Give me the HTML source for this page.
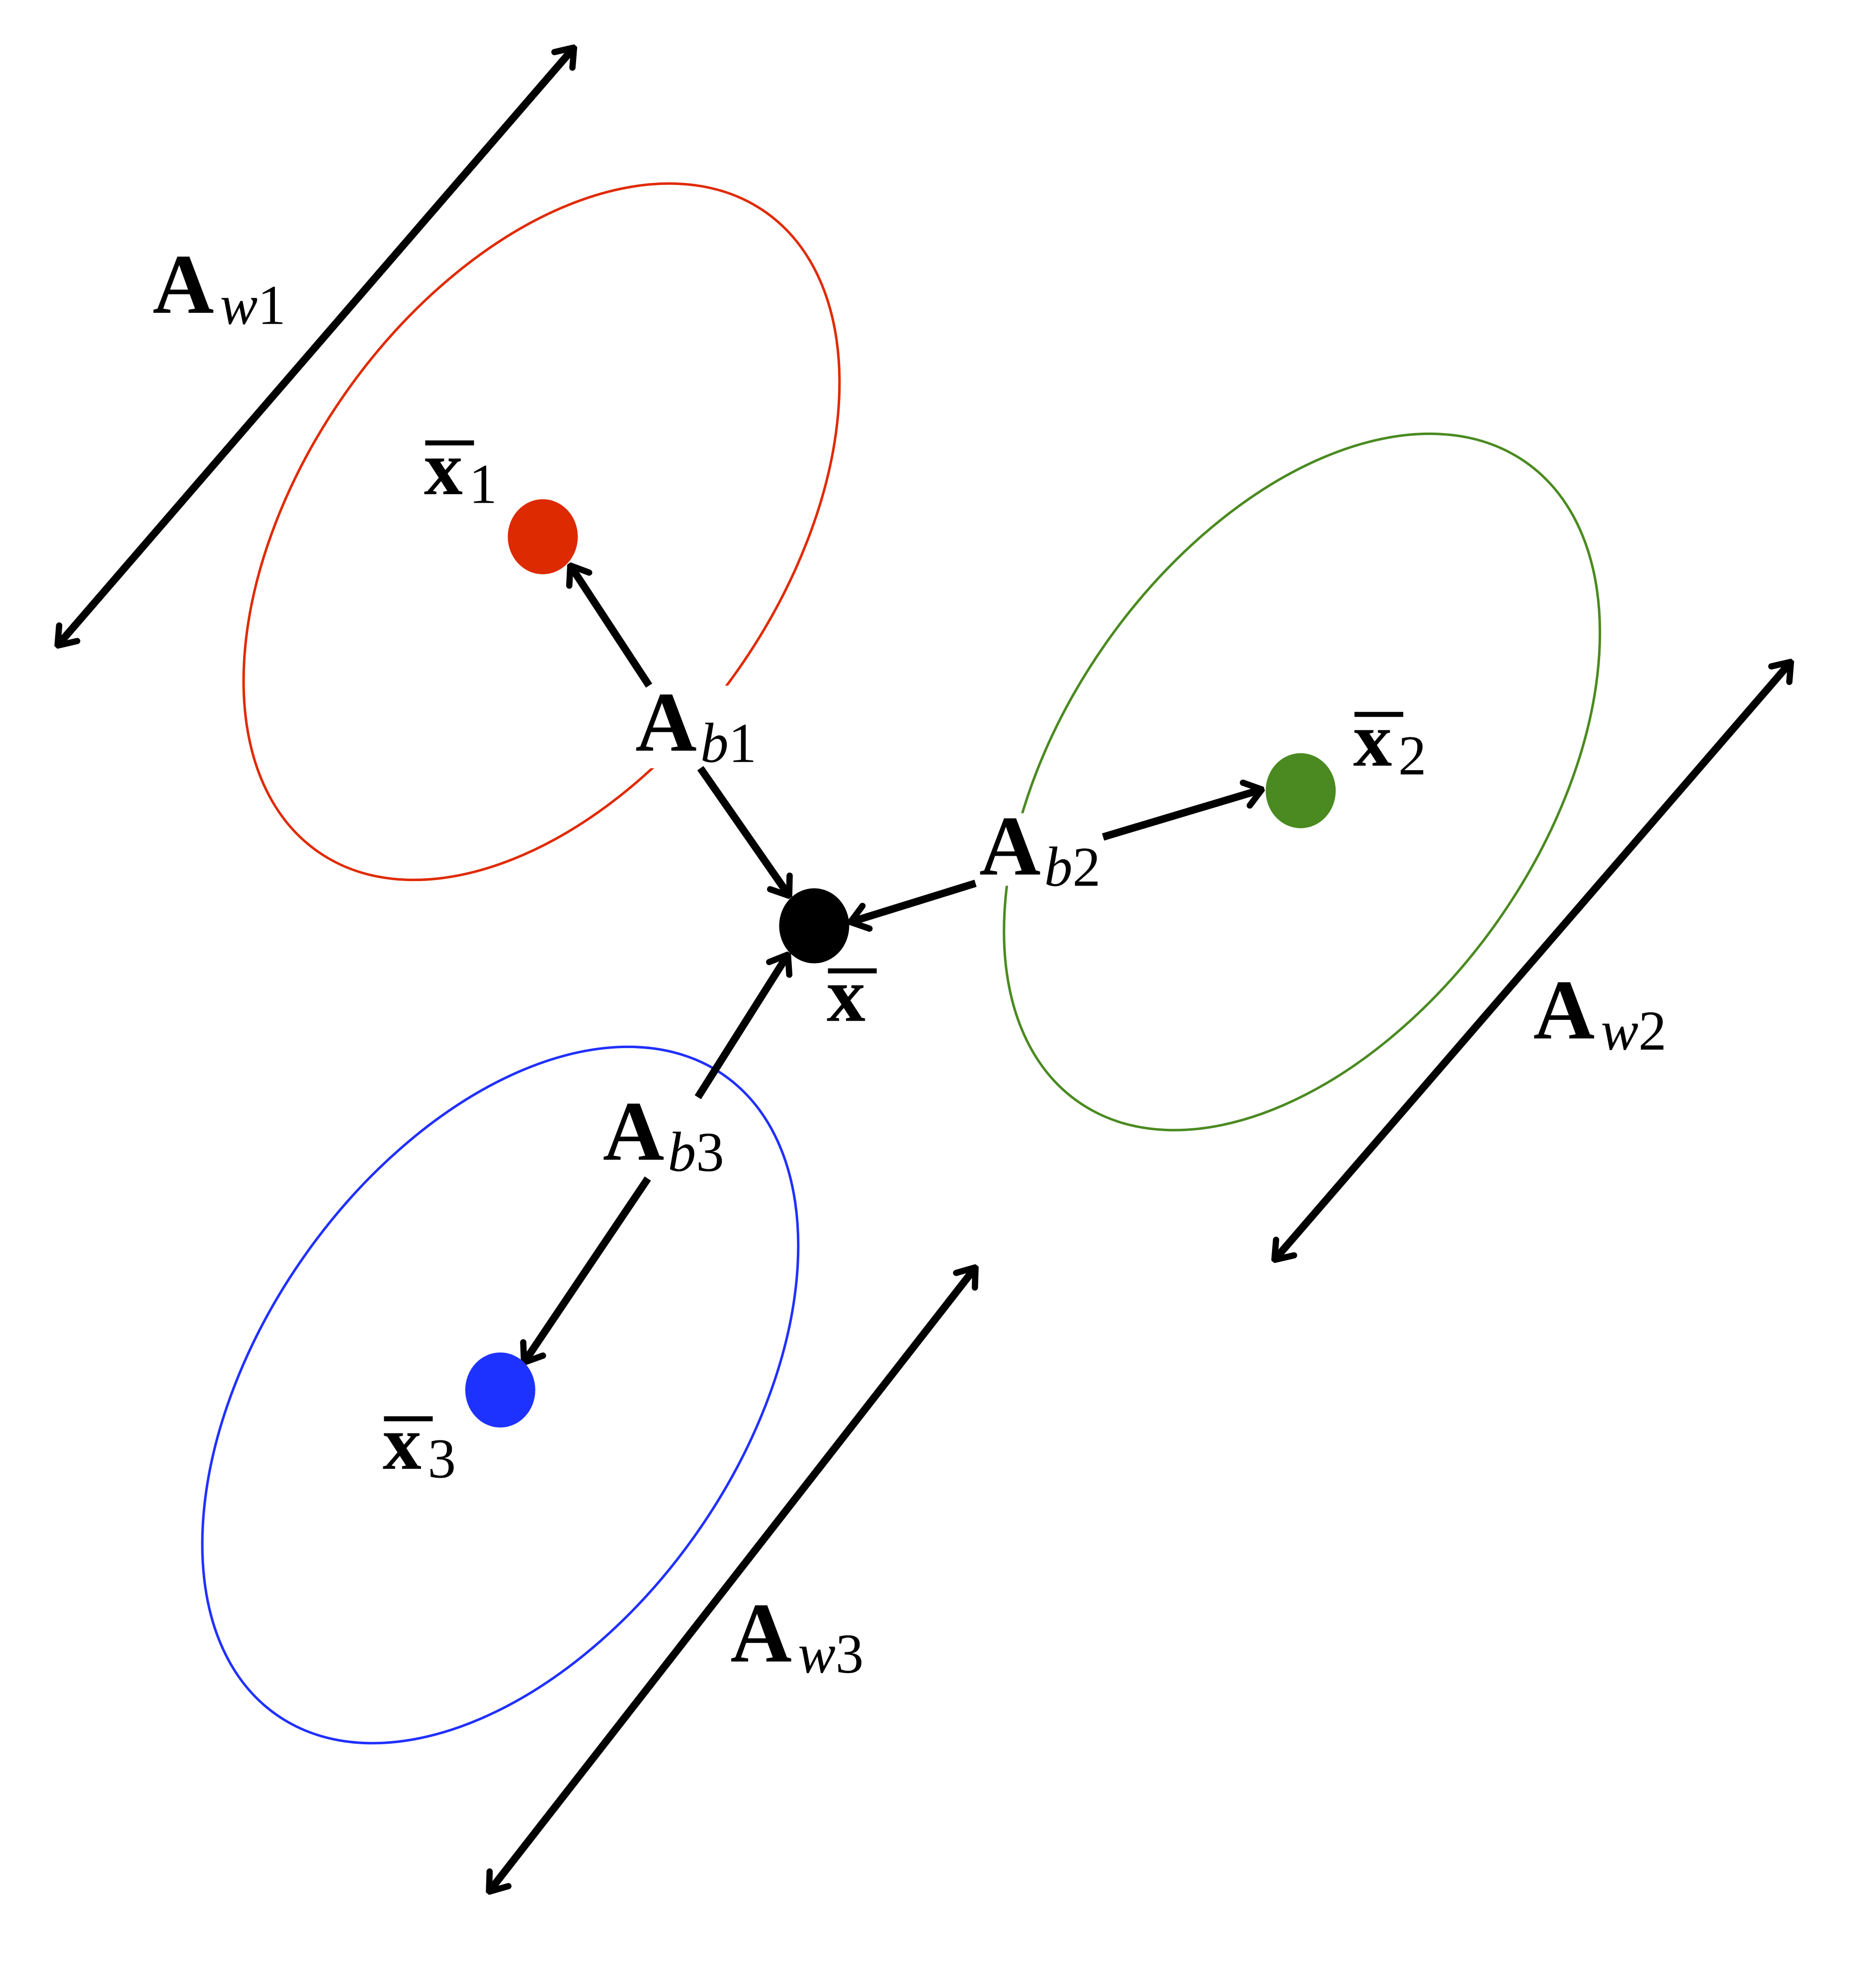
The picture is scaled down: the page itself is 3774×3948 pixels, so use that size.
<!DOCTYPE html>
<html><head><meta charset="utf-8"><style>
html,body{margin:0;padding:0;background:#fff;}
svg{display:block;}
text{font-family:"Liberation Serif",serif;}
.A{font-weight:bold;font-size:68px;}
.s{font-style:italic;font-size:45px;}
.x{font-weight:bold;font-size:62px;}
.n{font-size:45px;}
</style></head><body>
<svg width="3774" height="3948" viewBox="0 0 1500 1569" preserveAspectRatio="none" xmlns="http://www.w3.org/2000/svg">
<defs>
<marker id="h" viewBox="-16 -12 18 24" markerWidth="18" markerHeight="24" refX="0" refY="0" orient="auto-start-reverse" markerUnits="userSpaceOnUse">
<path d="M-13,-9.5 L0,0 L-13,9.5" fill="none" stroke="#000" stroke-width="5" stroke-linecap="round" stroke-linejoin="round"/>
</marker>
</defs>
<g fill="none" stroke-width="2">
<ellipse cx="433" cy="425" rx="312" ry="192" transform="rotate(-55 433 425)" stroke="#e02a00"/>
<ellipse cx="1041" cy="625" rx="312" ry="192" transform="rotate(-55 1041 625)" stroke="#4a8a20"/>
<ellipse cx="400" cy="1115" rx="312" ry="192" transform="rotate(-55 400 1115)" stroke="#2030ff"/>
</g>
<rect x="505" y="548" width="110" height="66" fill="#fff"/>
<rect x="780" y="650" width="110" height="58" fill="#fff"/>
<rect x="478" y="878" width="112" height="64" fill="#fff"/>
<g stroke="#000" stroke-width="6" fill="none">
<line x1="46" y1="516" x2="459" y2="38" marker-start="url(#h)" marker-end="url(#h)"/>
<line x1="1019" y1="1007" x2="1432" y2="529" marker-start="url(#h)" marker-end="url(#h)"/>
<line x1="391" y1="1512" x2="780" y2="1013" marker-start="url(#h)" marker-end="url(#h)"/>
<line x1="519" y1="548" x2="456" y2="452" marker-end="url(#h)"/>
<line x1="560" y1="614" x2="631" y2="716" marker-end="url(#h)"/>
<line x1="780" y1="706" x2="680" y2="737" marker-end="url(#h)"/>
<line x1="882" y1="669" x2="1009" y2="631" marker-end="url(#h)"/>
<line x1="558" y1="877" x2="630" y2="763" marker-end="url(#h)"/>
<line x1="518" y1="942" x2="419" y2="1089" marker-end="url(#h)"/>
</g>
<ellipse cx="434" cy="429" rx="28" ry="30" fill="#dd2a00"/>
<ellipse cx="1040" cy="632" rx="28" ry="30" fill="#4a8a20"/>
<ellipse cx="400" cy="1111" rx="28" ry="30" fill="#1e32ff"/>
<ellipse cx="651" cy="740" rx="28" ry="30" fill="#000"/>
<text x="122" y="250" class="A">A</text><text x="176" y="259" class="s">w<tspan font-style="normal">1</tspan></text>
<text x="508" y="600" class="A">A</text><text x="560" y="609" class="s">b<tspan font-style="normal">1</tspan></text>
<text x="783" y="699" class="A">A</text><text x="835" y="708" class="s">b<tspan font-style="normal">2</tspan></text>
<text x="482" y="927" class="A">A</text><text x="534" y="936" class="s">b<tspan font-style="normal">3</tspan></text>
<text x="1226" y="830" class="A">A</text><text x="1280" y="839" class="s">w<tspan font-style="normal">2</tspan></text>
<text x="584" y="1328" class="A">A</text><text x="638" y="1337" class="s">w<tspan font-style="normal">3</tspan></text>
<g fill="#000">
<rect x="340" y="352" width="39" height="4"/>
<text x="339" y="395" class="x">x</text><text x="375" y="402" class="n">1</text>
<rect x="1083" y="569" width="39" height="4"/>
<text x="1082" y="612" class="x">x</text><text x="1118" y="619" class="n">2</text>
<rect x="662" y="774" width="39" height="4"/>
<text x="661" y="816" class="x">x</text>
<rect x="307" y="1132" width="39" height="4"/>
<text x="306" y="1174" class="x">x</text><text x="342" y="1181" class="n">3</text>
</g>
</svg>
</body></html>
